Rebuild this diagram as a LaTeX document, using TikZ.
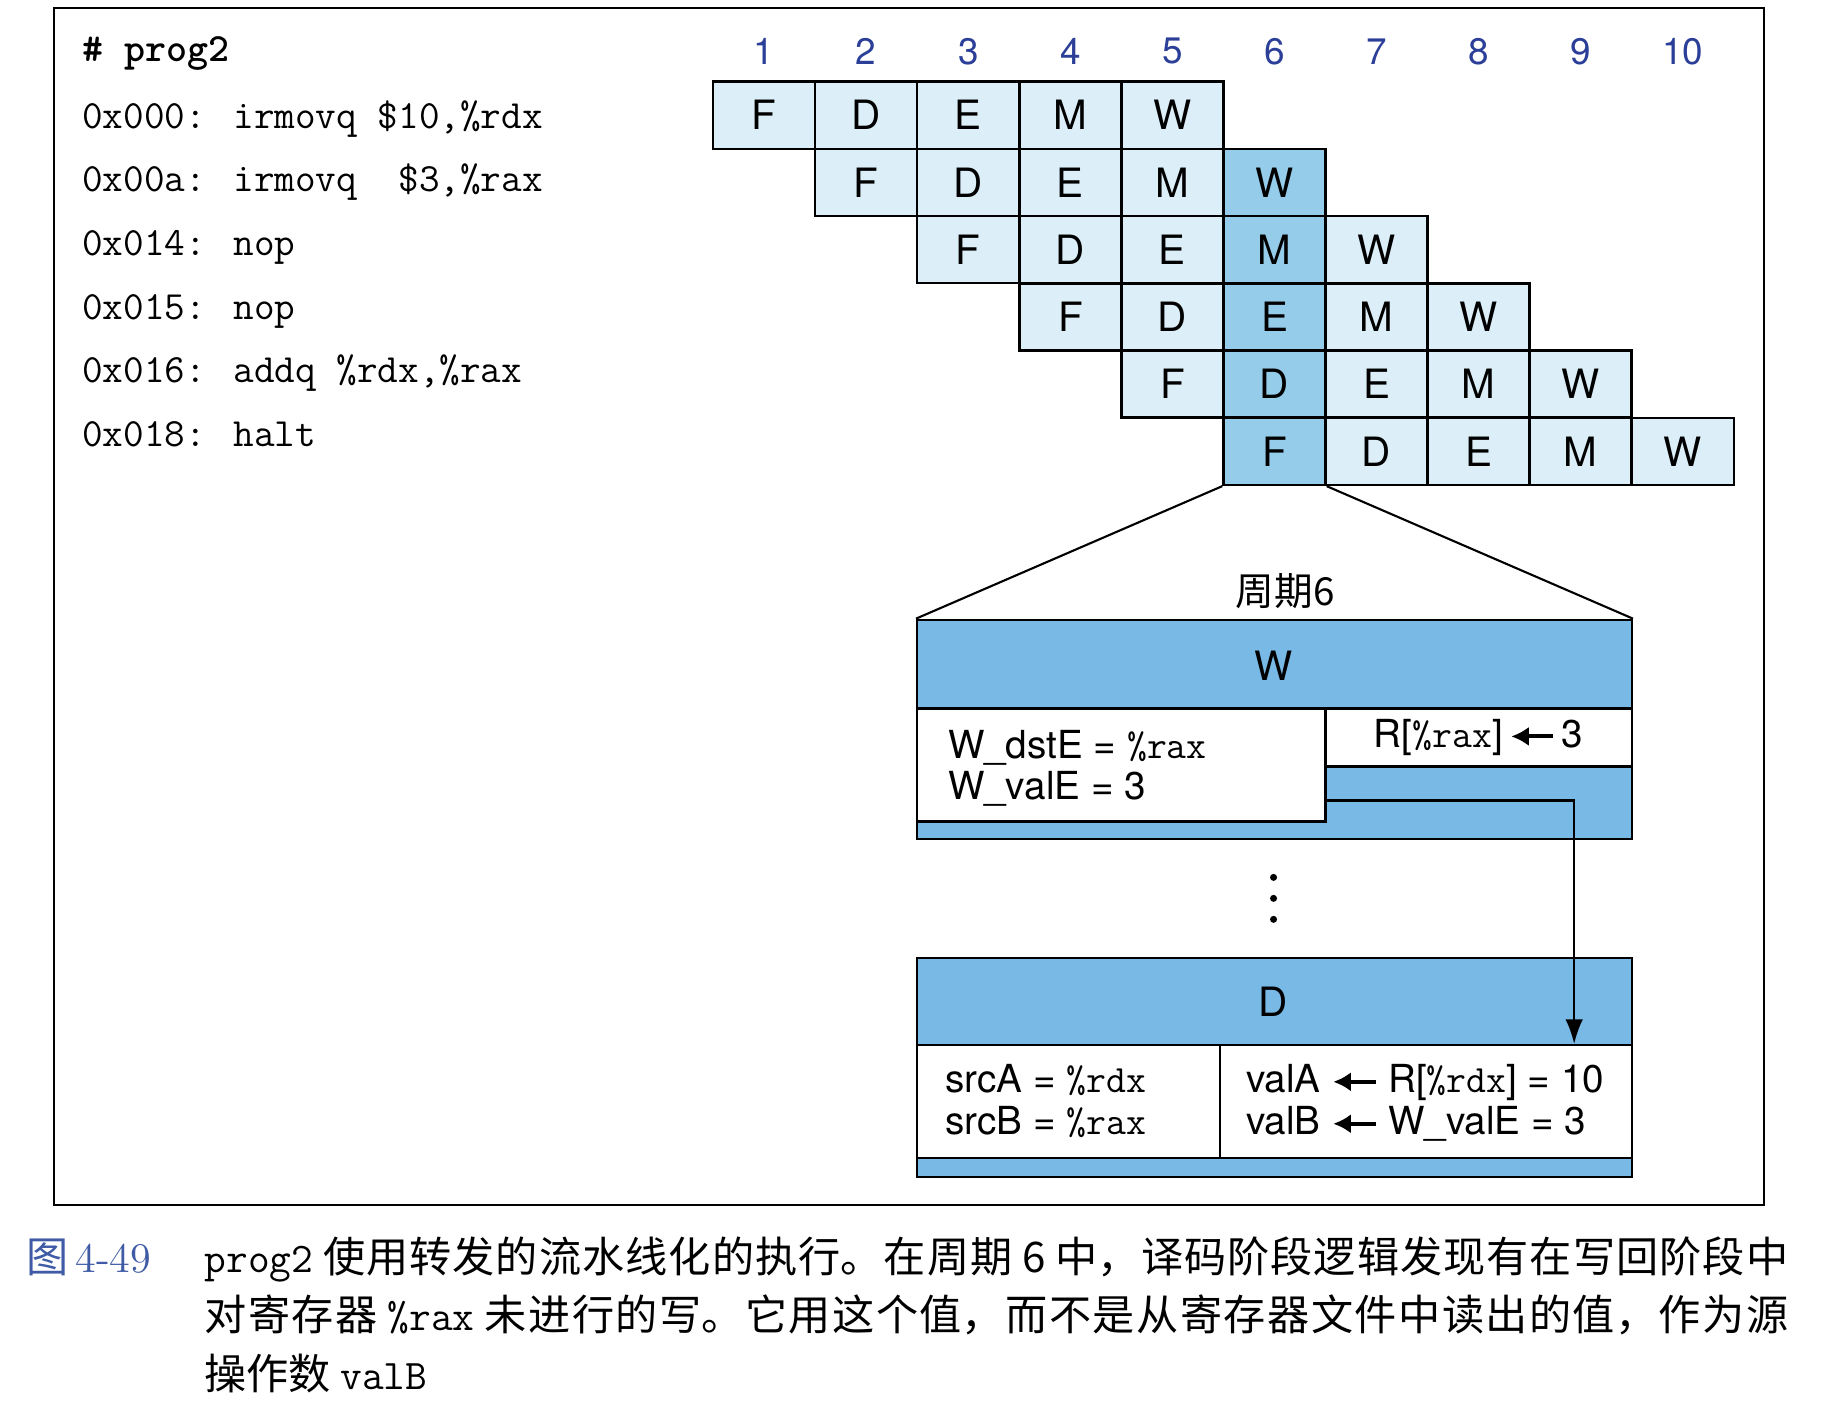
\documentclass[tikz,border=0pt]{standalone}
\usepackage{fontspec}
\setsansfont{TeX Gyre Heros}
\newfontfamily\cjk{Noto Sans CJK SC}
\usepackage{tikz}
\usetikzlibrary{arrows.meta,fit,positioning}
\definecolor{cellblue}{HTML}{DCEFF9}
\definecolor{hotblue}{HTML}{94CCEA}
\definecolor{bandblue}{HTML}{78B9E6}
\definecolor{numblue}{HTML}{2B3F98}
\definecolor{capblue}{HTML}{3F5BA5}
\tikzset{
 pl cell/.style={draw=black,line width=.7pt,fill=cellblue,minimum width=1.0207cm,
                 minimum height=.6723cm,inner sep=0pt,
                 font=\sffamily\fontsize{11.5}{13}\selectfont},
 pl num/.style={text=numblue,inner sep=0pt,font=\sffamily\fontsize{10.5}{12}\selectfont},
 pl code/.style={anchor=base west,inner sep=0pt,font=\ttfamily\fontsize{11.4}{13}\selectfont},
 pl band/.style={draw=black,line width=.7pt,fill=bandblue,inner sep=0pt},
 pl white/.style={draw=black,line width=.7pt,fill=white,inner sep=0pt},
 pl text/.style={anchor=base west,inner sep=0pt,font=\sffamily\fontsize{11}{12}\selectfont},
 pl stage/.style={inner sep=0pt,font=\sffamily\fontsize{11.5}{13}\selectfont},
 pl fwd/.style={line width=.6pt,-{Latex[length=7pt,width=5pt]}},
 pl dot/.style={circle,fill=black,inner sep=0pt,minimum size=2pt}
}
% heavy left arrow used in the stage boxes
\newcommand\plarrow{\tikz[baseline=-.55ex]\draw[line width=1.1pt,
  -{Latex[length=5pt,width=5.5pt]}] (12pt,0) -- (0pt,0);}

\begin{document}
\begin{tikzpicture}[x=0.011652cm,y=-0.011652cm]
 \useasboundingbox (0,0) rectangle (1568,1204);
 \draw[line width=.6pt] (46,7) rectangle (1514,1034);

 % listing
 \node[pl code,font=\ttfamily\bfseries\fontsize{11.4}{13}\selectfont] (prog) at (70,53) {\# prog2};
 \node[pl code] (i1) at (70,110) {0x000: irmovq \$10,\%rdx};
 \node[pl code] (i2) at (70,164.6) {0x00a: irmovq\ \ \$3,\%rax};
 \node[pl code] (i3) at (70,219) {0x014: nop};
 \node[pl code] (i4) at (70,274) {0x015: nop};
 \node[pl code] (i5) at (70,328.5) {0x016: addq \%rdx,\%rax};
 \node[pl code] (i6) at (70,383) {0x018: halt};

 % pipeline diagram
 \foreach \c in {1,...,10}
  \node[pl num] (n\c) at ({612+87.6*(\c-0.5)},44) {\c};
 \foreach \st [count=\s from 0] in {F,D,E,M,W}
  \foreach \i in {1,...,6} {
   \pgfmathtruncatemacro\c{\i+\s}
   \ifnum\c=6 \def\fc{hotblue}\else\def\fc{cellblue}\fi
   \node[pl cell,fill=\fc] (s\i-\c) at ({612+87.6*(\c-0.5)},{70+57.7*(\i-0.5)}) {\st};
  }

 % cycle 6 close-up
 \node[pl band,fit={(787.2,532) (1400.4,720)}] (wbox) {};
 \node[pl white,fit={(787.2,608) (1137.6,705)}] (wleft) {};
 \node[pl white,fit={(1137.6,608) (1400.4,658)}] (wright) {};
 \draw[line width=.6pt] (s6-6.south west) -- (wbox.north west);
 \draw[line width=.6pt] (s6-6.south east) -- (wbox.north east);
 \node[font=\cjk\fontsize{11}{13}\selectfont] (cyc) at (1103,507) {周期6};
 \node[pl stage] (wname) at (1093,571) {W};
 \node[pl text] (wdst) at (813,651) {W\_dstE = \texttt{\%rax}};
 \node[pl text] (wval) at (813,686) {W\_valE = 3};
 \node[pl stage,font=\sffamily\fontsize{11}{12}\selectfont] (wreg) at (wright.center) {R[\texttt{\%rax}]\,\plarrow\,3};

 \foreach \y [count=\k] in {753,771,789}
  \node[pl dot] (dot\k) at (1093,\y) {};

 \node[pl band,fit={(787.2,822) (1400.4,1010)}] (dbox) {};
 \node[pl white,fit={(787.2,897) (1047,994)}] (dleft) {};
 \node[pl white,fit={(1047,897) (1400.4,994)}] (dright) {};
 \node[pl stage] (dname) at (1093,860) {D};
 \node[pl text] (srca) at (811,938) {srcA = \texttt{\%rdx}};
 \node[pl text] (srcb) at (811,974) {srcB = \texttt{\%rax}};
 \node[pl text] (vala) at (1069,938) {valA \plarrow\ R[\texttt{\%rdx}] = 10};
 \node[pl text] (valb) at (1069,974) {valB \plarrow\ W\_valE = 3};

 \coordinate (fwd out) at (wleft.east |- 0,687);
 \coordinate (fwd in) at (dright.north -| 1351,0);
 \draw[pl fwd] (fwd out) -| (fwd in);

 % caption
 \node[anchor=base west,inner sep=0pt,text=capblue,font=\fontsize{12}{15}\selectfont]
  (fig) at (22,1092) {{\cjk 图}\hspace{2pt}4-49};
 \node[anchor=base west,inner sep=0pt,text width=450.8pt,align=justify,
       font=\cjk\fontsize{12}{16.6}\selectfont] (cap) at (175,1092)
  {\XeTeXlinebreaklocale "zh"\XeTeXlinebreakskip=0pt plus 3pt
   \texttt{prog2} 使用转发的流水线化的执行。在周期 6 中，译码阶段逻辑发现有在写回阶段中\linebreak
   对寄存器 \texttt{\%rax} 未进行的写。它用这个值，而不是从寄存器文件中读出的值，作为源\linebreak
   操作数 \texttt{valB}};
\end{tikzpicture}
\end{document}
